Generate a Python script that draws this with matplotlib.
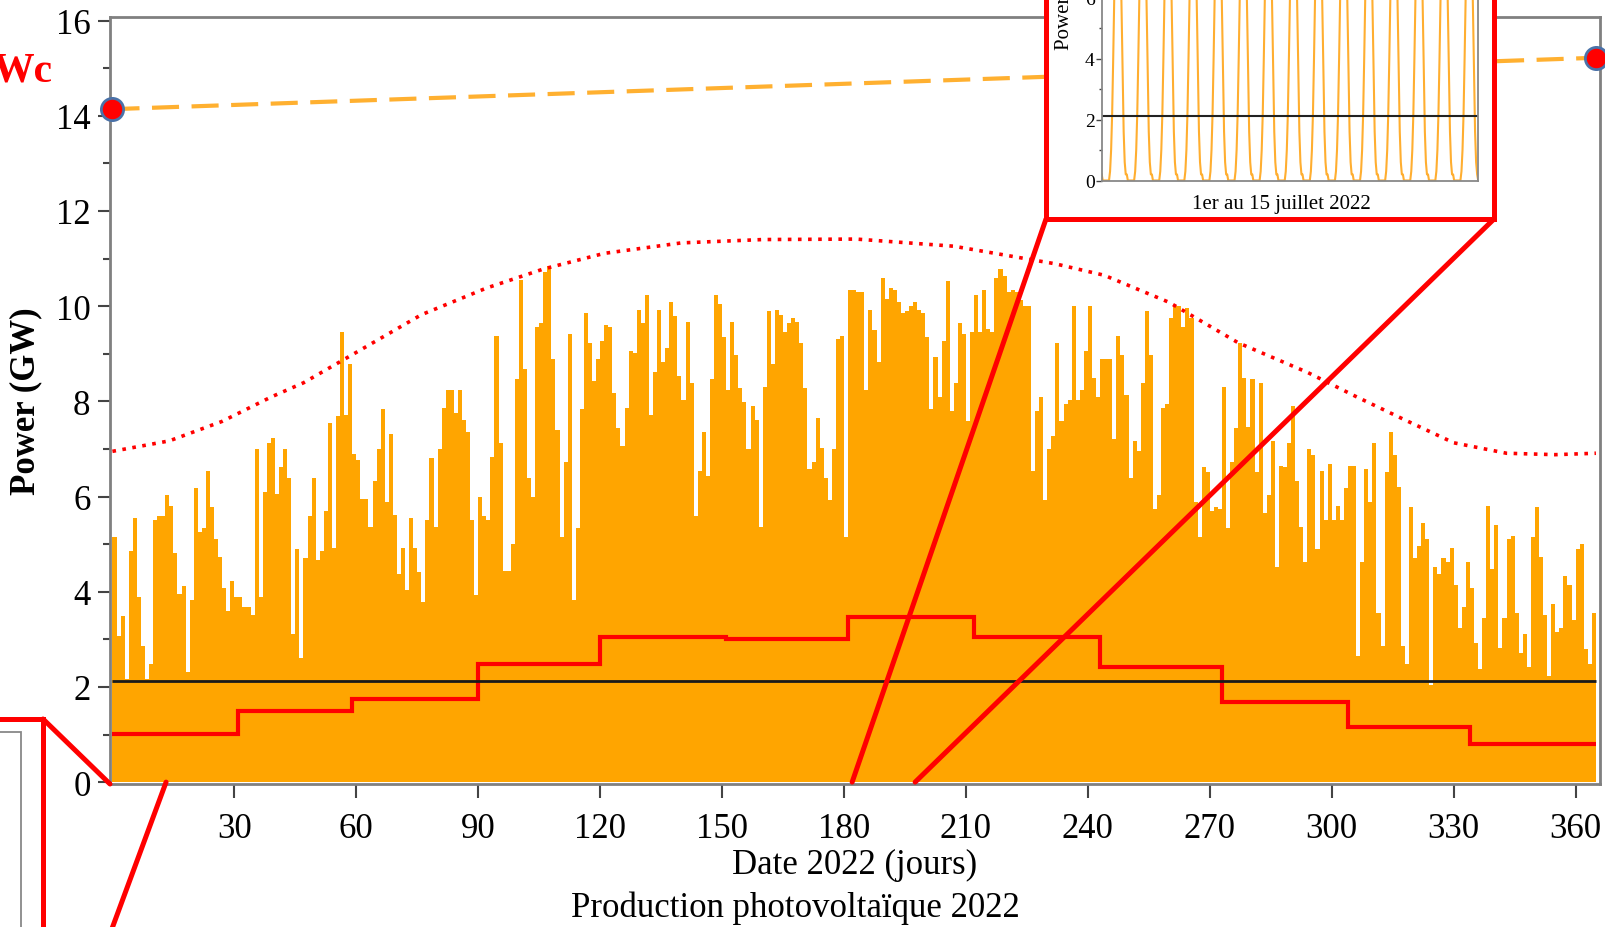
import numpy as np
import matplotlib
matplotlib.use("Agg")
from matplotlib import pyplot as plt
from matplotlib.patches import Rectangle, ConnectionPatch

plt.rcParams['font.family'] = ['Liberation Serif', 'DejaVu Serif']

# daily peak production (GW), 1 value per day of 2022
peaks_q1 = [5.14, 3.08, 3.49, 2.16, 4.85, 5.55, 3.89, 2.86, 2.16, 2.49,
            5.51, 5.59, 5.59, 6.03, 5.81, 4.81, 3.96, 4.11, 2.31, 3.82,
            6.18, 5.25, 5.33, 6.54, 5.77, 5.11, 4.74, 4.08, 3.60, 4.22,
            3.89, 3.89, 3.67, 3.67, 3.52, 6.99, 3.89, 6.10, 7.13, 7.24,
            6.06, 6.62, 6.99, 6.40, 3.12, 4.89, 2.60, 4.70, 5.59, 6.40,
            4.66, 4.85, 5.70, 7.54, 4.92, 7.69, 9.45, 7.72, 8.79, 6.90]
peaks_q2 = [6.76, 5.95, 5.95, 5.36, 6.33, 6.99, 7.83, 5.88, 7.32, 5.62,
            4.37, 4.92, 4.04, 5.55, 4.92, 4.41, 3.78, 5.51, 6.80, 5.36,
            6.99, 7.87, 8.24, 8.24, 7.76, 8.24, 7.61, 7.35, 5.51, 3.93,
            5.99, 5.59, 5.51, 6.84, 9.38, 7.13, 4.44, 4.44, 5.00, 8.46,
            10.56, 8.68, 6.40, 5.99, 9.57, 9.64, 10.71, 10.85, 8.90, 7.39,
            5.14, 6.73, 9.42, 3.82, 5.33, 7.83, 9.86, 9.23, 8.42, 8.90,
            9.27, 9.60]
peaks_q3 = [9.57, 8.17, 7.43, 7.06, 7.87, 9.05, 9.01, 9.93, 9.64, 10.23,
            7.72, 8.61, 9.93, 8.83, 9.12, 10.08, 9.79, 8.53, 8.02, 9.67,
            8.39, 5.59, 6.54, 7.35, 6.43, 8.46, 10.23, 10.04, 9.35, 8.24,
            9.67, 8.98, 8.28, 7.99, 6.99, 7.91, 7.61, 5.36, 8.31, 9.90,
            8.79, 9.93, 9.82, 9.45, 9.64, 9.75, 9.67, 9.23, 8.28, 6.58,
            6.73, 7.65, 7.02, 6.40, 5.92, 6.99, 9.31, 9.38, 5.14, 10.34,
            10.34]
peaks_q4 = [10.30, 10.30, 8.24, 9.93, 9.49, 8.83, 10.60, 10.15, 10.38, 10.34,
            10.08, 9.86, 9.90, 10.01, 10.08, 9.93, 9.86, 9.35, 7.83, 8.94,
            8.09, 9.27, 10.52, 7.80, 8.39, 9.64, 9.42, 7.58, 9.45, 10.23,
            9.45, 10.34, 9.53, 9.45, 10.60, 10.78, 10.63, 10.30, 10.34, 10.30,
            10.12, 10.01, 10.01, 6.54, 7.80, 8.09, 5.92, 6.99, 7.28, 9.23,
            7.58, 7.95, 8.02, 10.01, 8.02, 8.24, 9.05, 10.01, 8.50, 8.09,
            8.90, 8.90]
peaks_q5 = [8.90, 7.21, 9.38, 8.98, 8.13, 6.40, 7.17, 6.95, 8.39, 9.90,
            8.98, 5.73, 6.03, 7.87, 7.95, 9.75, 10.01, 10.01, 9.57, 9.97,
            9.75, 5.88, 5.14, 6.62, 6.51, 5.70, 5.77, 5.73, 8.31, 5.33,
            6.73, 7.43, 9.23, 8.50, 7.46, 8.46, 6.51, 8.39, 5.66, 6.03,
            7.17, 4.52, 6.65, 6.62, 7.13, 7.91, 6.32, 5.36, 4.63, 6.99,
            6.88, 4.89, 6.54, 5.51, 6.69, 5.51, 5.81, 5.51, 6.18, 6.65,
            6.65]
peaks_q6 = [2.64, 4.63, 6.58, 5.88, 7.13, 3.56, 2.86, 6.51, 7.35, 6.88,
            6.21, 2.86, 2.49, 5.77, 4.70, 4.96, 5.44, 5.11, 2.05, 4.52,
            4.37, 4.70, 4.63, 4.92, 4.15, 3.23, 3.67, 4.63, 4.08, 2.93,
            2.38, 3.45, 5.81, 4.48, 5.40, 2.82, 3.45, 5.11, 5.18, 3.56,
            2.71, 3.12, 2.42, 5.14, 5.77, 4.74, 3.52, 2.23, 3.74, 3.15,
            3.23, 4.33, 4.15, 3.41, 4.89, 5.00, 2.79, 2.49, 3.56]
peaks = peaks_q1 + peaks_q2 + peaks_q3 + peaks_q4 + peaks_q5 + peaks_q6

# monthly mean (red steps)
month_edges = [0, 31, 59, 90, 120, 151, 181, 212, 243, 273, 304, 334, 365]
month_avg = [1.02, 1.49, 1.75, 2.49, 3.04, 3.01, 3.47, 3.04, 2.42, 1.68, 1.15, 0.81]
year_avg = 2.12

# clear-sky envelope (dotted)
env_days = [0, 14, 27, 39, 47, 59, 76, 92, 106, 121, 140, 160, 183, 207, 232,
            244, 260, 277, 294, 306, 318, 330, 343, 355, 365]
env_vals = [6.95, 7.17, 7.58, 8.09, 8.39, 8.98, 9.82, 10.38, 10.78, 11.11, 11.33,
            11.40, 11.41, 11.26, 10.89, 10.65, 10.08, 9.23, 8.61, 8.10, 7.61, 7.13,
            6.91, 6.88, 6.91]

# installed capacity (dashed)
cap_days = [0, 365]
cap_vals = [14.14, 15.22]

# typical hourly profile 1-15 July (inset)
july_profile = [0.2, 0, 0, 0, 0, 0, 0, 0, 0.3, 1.0, 2.2, 4.0,
                6.0, 7.8, 9.2, 9.9, 9.8, 9.0, 7.6, 5.6, 3.4, 1.6, 0.6, 0.2]
n_july_days = 15

W, H = 1606, 928


def fx(px):
    return px / W


def fy(py):
    return 1 - py / H


fig = plt.figure(figsize=(W / 100, H / 100), dpi=100)

ax = fig.add_axes([fx(110), fy(785), fx(1600) - fx(110), fy(18.3) - fy(785)])
ax.set_zorder(0)
ax.stairs(peaks, np.arange(len(peaks) + 1), fill=True, color='#FFA500', lw=0)
ax.stairs(month_avg, month_edges, baseline=None, color='red', lw=3, zorder=3)
ax.hlines(year_avg, 0, 365, color='#1a1a1a', lw=2, zorder=3)
ax.plot(env_days, env_vals, color='red', lw=2.6, ls=(0, (1, 1.8)), zorder=3)
ax.plot(cap_days, cap_vals, color='#FFB030', lw=3, ls=(0, (6.5, 3)), zorder=3)
ax.plot(cap_days, cap_vals, ls='none', marker='o', ms=16, mfc='red',
        mec='#4a72a8', mew=2, clip_on=False, zorder=5)

ax.set_xlim(-0.6, 366)
ax.set_ylim(-0.04, 16.07)
ax.set_xticks(range(30, 361, 30))
ax.set_yticks(range(0, 17, 2))
ax.set_yticks(range(1, 16, 2), minor=True)
ax.tick_params(axis='both', which='both', direction='out', labelsize=25,
               color='#444', width=1.5)
ax.tick_params(axis='y', which='major', length=9, pad=5)
ax.tick_params(axis='y', which='minor', length=5)
ax.tick_params(axis='x', which='major', length=10, pad=10)
for s in ax.spines.values():
    s.set_color('#808080')
    s.set_linewidth(2)

fig.text(fx(26), fy(401), 'Power (GW)', rotation=90, ha='center', va='center',
         fontsize=25, fontweight='bold')
fig.text(fx(855), fy(865), 'Date 2022 (jours)', ha='center', va='center', fontsize=25)
fig.text(fx(795), fy(908), 'Production photovoltaïque 2022', ha='center',
         va='center', fontsize=25)
fig.text(fx(52), fy(72), 'Wc', ha='right', va='center', color='red',
         fontsize=30, fontweight='bold')

# top-right inset frame
fig.add_artist(Rectangle((fx(1046), fy(220)), fx(1494) - fx(1046), 1.0,
                         transform=fig.transFigure, facecolor='white',
                         edgecolor='red', lw=3.6, zorder=1))

axin = fig.add_axes([fx(1101.7), fy(181.5), fx(1478.2) - fx(1101.7), 12 * 30.5 / H])
axin.set_zorder(2)
hours = np.arange(24 * n_july_days + 1)
july_vals = np.append(np.tile(july_profile, n_july_days), 0.0)
axin.plot(hours, july_vals, color='#FFAE30', lw=1.5)
axin.hlines(year_avg, 0, 24 * n_july_days, color='#222', lw=1.5)
axin.set_xlim(0, 24 * n_july_days)
axin.set_ylim(0, 12)
axin.set_xticks([])
axin.set_yticks(range(0, 13, 2))
axin.set_yticks(range(1, 12, 2), minor=True)
axin.tick_params(axis='y', which='both', direction='out', labelsize=14,
                 color='#444', width=1, pad=1)
axin.tick_params(axis='y', which='major', length=4)
axin.tick_params(axis='y', which='minor', length=2.5)
for s in axin.spines.values():
    s.set_color('#888888')
    s.set_linewidth(1.3)
fig.text(fx(1065), fy(50), 'Power (GW)', rotation=90, ha='center', va='bottom',
         fontsize=15)
fig.text(fx(1281), fy(205), '1er au 15 juillet 2022', ha='center', va='center',
         fontsize=15)

# bottom-left inset frame (mostly outside the picture)
fig.add_artist(Rectangle((fx(-300), fy(1300)), fx(43) - fx(-300), fy(720) - fy(1300),
                         transform=fig.transFigure, facecolor='white',
                         edgecolor='red', lw=3.6, zorder=1))
fig.add_artist(Rectangle((fx(-300), fy(1300)), fx(20.7) - fx(-300), fy(733) - fy(1300),
                         transform=fig.transFigure, facecolor='white',
                         edgecolor='#888888', lw=1.3, zorder=1.5))

# connector lines
links = [((182, 0), ax.transData, (fx(1046), fy(220))),
         ((197.5, 0), ax.transData, (fx(1494), fy(220))),
         ((0, 0), ax.transAxes, (fx(43), fy(720))),
         ((13.2, 0), ax.transData, (fx(86), fy(1000)))]
for xyA, trA, xyB in links:
    cp = ConnectionPatch(xyA=xyA, coordsA=trA, xyB=xyB, coordsB=fig.transFigure,
                         color='red', lw=3.6, zorder=3)
    fig.add_artist(cp)

fig.savefig('out.png', dpi=100)
